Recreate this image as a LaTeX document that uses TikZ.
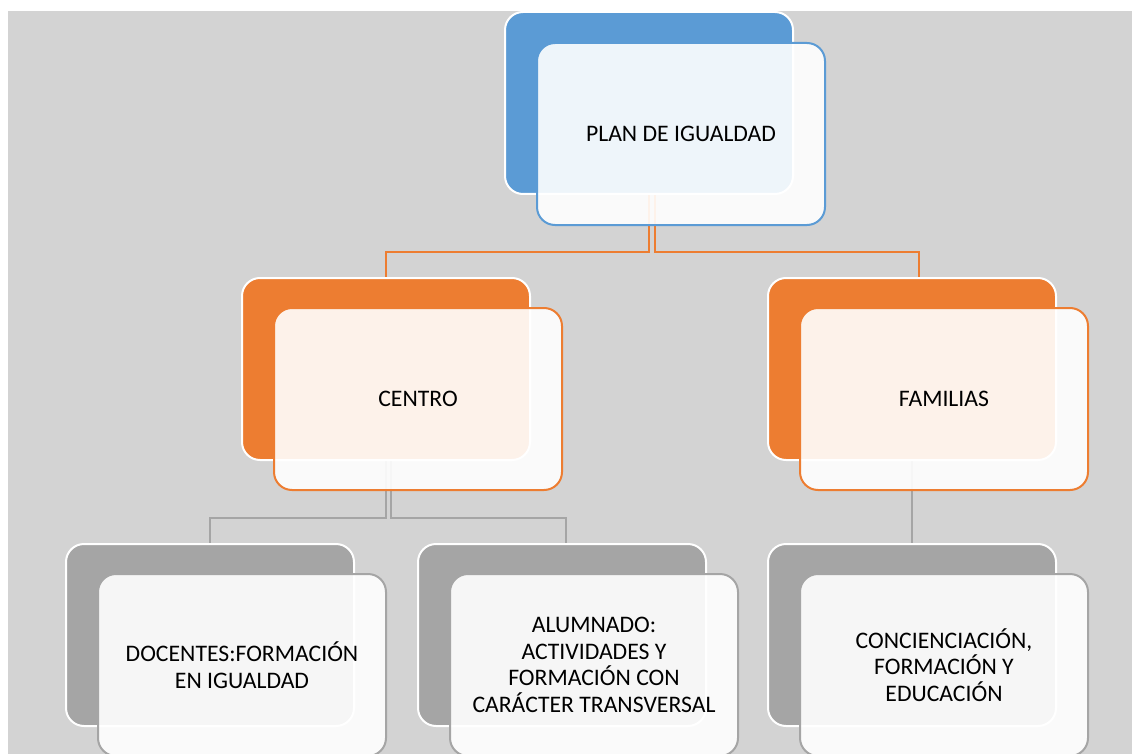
\documentclass[tikz,border=0pt]{standalone}
\usepackage{fontspec}
\setmainfont{Carlito}
\definecolor{bggray}{HTML}{D3D3D3}
\definecolor{oblue}{HTML}{5B9BD5}
\definecolor{oorange}{HTML}{ED7D31}
\definecolor{ogray}{HTML}{A5A5A5}
\pgfdeclarelayer{bglayer}
\pgfdeclarelayer{connlayer}
\pgfsetlayers{bglayer,connlayer,main}
\begin{document}
\begin{tikzpicture}[x=1pt,y=-1pt,
  backbox/.style={draw=white, line width=2pt, rounded corners=18pt,
    minimum width=288pt, minimum height=182pt, anchor=north west, inner sep=0pt},
  frontbox/.style={backbox, fill=white, fill opacity=0.9, text opacity=1,
    align=center, text=black, font=\fontsize{23.7}{26.5}\selectfont},
  oline/.style={draw=oorange, line width=2pt},
  gline/.style={draw=ogray, line width=2pt}]
\useasboundingbox (0,0) rectangle (1132,754);
\begin{pgfonlayer}{bglayer}
\fill[bggray] (8,11) rectangle (1132,754);
\end{pgfonlayer}
% back boxes
\node[backbox, fill=oblue] (pb) at (504,11) {};
\node[backbox, fill=oorange] (cb) at (241,277) {};
\node[backbox, fill=oorange] (fb) at (767,277) {};
\node[backbox, fill=ogray] (db) at (65,543) {};
\node[backbox, fill=ogray] (ab) at (417,543) {};
\node[backbox, fill=ogray] (kb) at (767,543) {};
% front boxes
\node[frontbox, draw=oblue] (pf) at (536,42) {PLAN DE IGUALDAD};
\node[frontbox, draw=oorange] (cf) at (273,307) {CENTRO};
\node[frontbox, draw=oorange] (ff) at (799,307) {FAMILIAS};
\node[frontbox, draw=ogray] (df) at (97,573) {DOCENTES:FORMACIÓN\\EN IGUALDAD};
\node[frontbox, draw=ogray] (af) at (449,573) {ALUMNADO:\\ACTIVIDADES Y\\FORMACIÓN CON\\CARÁCTER TRANSVERSAL};
\node[frontbox, draw=ogray] (kf) at (799,573) {CONCIENCIACIÓN,\\FORMACIÓN Y\\EDUCACIÓN};
% connectors
\coordinate (h1) at (0,252);
\coordinate (h2) at (0,518);
\coordinate (pR) at ([xshift=6pt]pb.south);
\coordinate (fT) at ([xshift=7pt]fb.north);
\coordinate (cR) at ([xshift=5pt]cb.south);
\coordinate (aT) at ([xshift=4pt]ab.north);
\begin{pgfonlayer}{connlayer}
\draw[oline] (pb.south) -- (pb.south |- h1) -| (cb.north);
\draw[oline] (pR) -- (pR |- h1) -| (fT);
\draw[gline] (cb.south) -- (cb.south |- h2) -| (db.north);
\draw[gline] (cR) -- (cR |- h2) -| (aT);
\draw[gline] (fb.south) -- (kb.north);
\end{pgfonlayer}
\end{tikzpicture}
\end{document}
